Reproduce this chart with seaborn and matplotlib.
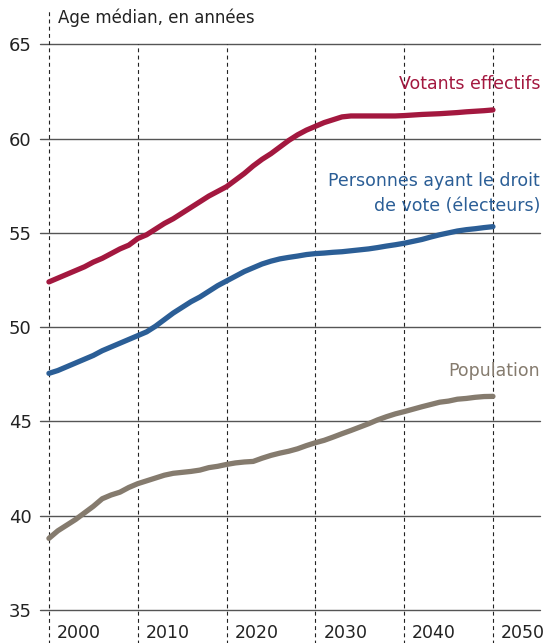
import matplotlib
matplotlib.use("Agg")
import matplotlib.pyplot as plt
import matplotlib.transforms as mtransforms
import pandas as pd
import seaborn as sns

# Age médian, 2000-2050
years = list(range(2000, 2051))
votants = [52.4, 52.6, 52.8, 53.0, 53.2, 53.45, 53.65, 53.9, 54.15, 54.35,
           54.7, 54.9, 55.2, 55.5, 55.75, 56.05, 56.35, 56.65, 56.95, 57.2,
           57.45, 57.8, 58.15, 58.55, 58.9, 59.2, 59.55, 59.9, 60.2, 60.45,
           60.65, 60.85, 61.0, 61.15, 61.2, 61.2, 61.2, 61.2, 61.2, 61.2,
           61.22, 61.25, 61.28, 61.3, 61.32, 61.35, 61.38, 61.42, 61.45, 61.48,
           61.52]
electeurs = [47.55, 47.7, 47.9, 48.1, 48.3, 48.5, 48.75, 48.95, 49.15, 49.35,
             49.55, 49.75, 50.05, 50.4, 50.75, 51.05, 51.35, 51.6, 51.9, 52.2,
             52.45, 52.7, 52.95, 53.15, 53.35, 53.5, 53.62, 53.7, 53.77, 53.85,
             53.9, 53.93, 53.97, 54.0, 54.05, 54.1, 54.15, 54.22, 54.3, 54.37,
             54.45, 54.55, 54.65, 54.78, 54.9, 55.0, 55.1, 55.17, 55.22, 55.28,
             55.33]
population = [38.8, 39.2, 39.5, 39.8, 40.15, 40.5, 40.9, 41.1, 41.25, 41.5,
              41.7, 41.85, 42.0, 42.15, 42.25, 42.3, 42.35, 42.42, 42.55, 42.62,
              42.72, 42.8, 42.85, 42.88, 43.05, 43.2, 43.32, 43.42, 43.55, 43.72,
              43.87, 44.0, 44.17, 44.35, 44.52, 44.7, 44.88, 45.08, 45.25, 45.4,
              45.52, 45.65, 45.78, 45.9, 46.02, 46.08, 46.18, 46.22, 46.28, 46.32,
              46.33]

series_names = ["Votants effectifs", "Personnes ayant le droit\nde vote (électeurs)", "Population"]
series_colors = ["#A3183F", "#2B5E96", "#857B6E"]
decades = [2000, 2010, 2020, 2030, 2040, 2050]
yticks = [35, 40, 45, 50, 55, 60, 65]

df = pd.DataFrame({"year": years * 3,
                   "age": votants + electeurs + population,
                   "serie": [series_names[0]] * 51 + [series_names[1]] * 51 + [series_names[2]] * 51})

sns.set_style("white")
plt.rcParams["font.family"] = ["DejaVu Sans"]

fig = plt.figure(figsize=(5.55, 6.43), dpi=100)
ax = fig.add_axes([0.072, 0.0513, 0.901, 0.8798])

# grille horizontale
for y in yticks:
    ax.axhline(y, color="#555555", lw=1.0, zorder=1, clip_on=False)

# verticales en pointillés (dépassent de l'axe)
for i, d in enumerate(decades):
    top = 1.06 if i == 0 else 1.0
    ax.axvline(d, ymin=-0.06, ymax=top, color="#222222", lw=0.8,
               ls=(0, (3.5, 3)), clip_on=False, zorder=1)

sns.lineplot(data=df, x="year", y="age", hue="serie", palette=series_colors,
             hue_order=series_names, lw=3.8, legend=False, ax=ax, zorder=3)
for line in ax.get_lines()[-3:]:
    line.set_solid_capstyle("round")

ax.set_xlim(1998.99, 2055.3)
ax.set_ylim(35, 65)
sns.despine(ax=ax, left=True, bottom=True)
ax.set_xlabel("")
ax.set_ylabel("")

ax.set_yticks(yticks)
ax.set_yticklabels([str(y) for y in yticks], fontsize=13, color="#222222")
ax.set_xticks(decades)
ax.set_xticklabels([str(d) for d in decades], fontsize=12.5, color="#222222")
ax.tick_params(axis="both", length=0)
ax.tick_params(axis="y", pad=6)
ax.tick_params(axis="x", pad=10)
offset = mtransforms.ScaledTranslation(8 / 100, 0, fig.dpi_scale_trans)
for lab in ax.get_xticklabels():
    lab.set_ha("left")
    lab.set_transform(lab.get_transform() + offset)

# étiquettes des séries
ax.text(2055.3, 62.9, series_names[0], color=series_colors[0], fontsize=12.5,
        ha="right", va="center")
ax.text(2055.3, 57.1, series_names[1], color=series_colors[1], fontsize=12.5,
        ha="right", va="center", multialignment="right", linespacing=1.5)
ax.text(2055.3, 47.7, series_names[2], color=series_colors[2], fontsize=12.5,
        ha="right", va="center")

fig.text(58 / 555, 1 - 18 / 643, "Age médian, en années", fontsize=12,
         color="#222222", ha="left", va="center")

fig.savefig("out.png", dpi=100)
